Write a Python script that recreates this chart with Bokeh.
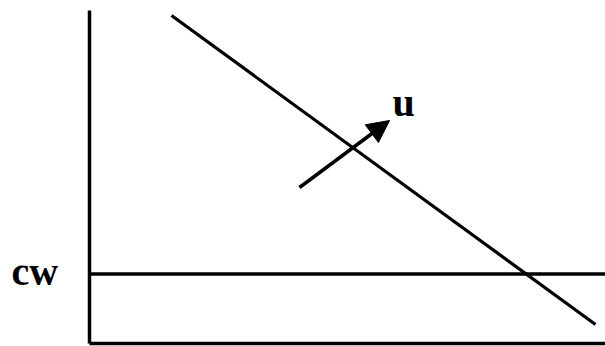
from bokeh.plotting import figure
from bokeh.models import Range1d, Arrow, NormalHead, ColumnDataSource
from bokeh.core.properties import value
from bokeh.embed import file_html
from bokeh.resources import INLINE

# Diagram values (abstract units; origin at the axes corner)
vertical_axis_x = [0.0, 0.0]
vertical_axis_y = [0.0, 6.66]
horizontal_axis_x = [0.0, 10.4]
horizontal_axis_y = [0.0, 0.0]
cw_level = 1.39
cw_line_x = [0.0, 10.4]
cw_line_y = [cw_level, cw_level]
iso_line_x = [1.64, 10.12]
iso_line_y = [6.56, 0.38]
arrow_start = (4.2, 3.12)
arrow_end = (6.0, 4.46)
labels = ["u", "cw"]
label_x = [6.06, -1.56]
label_y = [4.82, 1.44]

p = figure(width=605, height=346, output_backend="svg", toolbar_location=None,
           x_range=Range1d(-1.78, 10.32), y_range=Range1d(-0.06, 6.86),
           x_axis_type=None, y_axis_type=None, min_border=0)
p.grid.visible = False
p.outline_line_color = None
p.background_fill_color = "white"
p.border_fill_color = "white"

p.line(vertical_axis_x, vertical_axis_y, line_color="black", line_width=3.5)
p.line(horizontal_axis_x, horizontal_axis_y, line_color="black", line_width=3.5)
p.line(cw_line_x, cw_line_y, line_color="black", line_width=3.5)
p.line(iso_line_x, iso_line_y, line_color="black", line_width=3.2)

p.add_layout(Arrow(x_start=arrow_start[0], y_start=arrow_start[1],
                   x_end=arrow_end[0], y_end=arrow_end[1],
                   line_color="black", line_width=3.5,
                   end=NormalHead(size=22, fill_color="black", line_color="black", line_width=1)))

src = ColumnDataSource(dict(x=label_x, y=label_y, t=labels))
p.text(x="x", y="y", text="t", source=src, text_font=value("Liberation Serif"),
       text_font_style="bold", text_font_size="40px", text_color="black",
       text_baseline="alphabetic", text_align="left")

open("out.html", "w").write(file_html(p, INLINE))
